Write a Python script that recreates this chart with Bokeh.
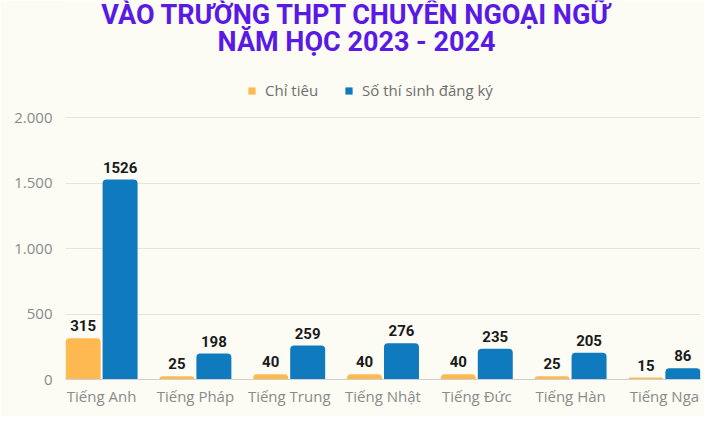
from bokeh.plotting import figure
from bokeh.models import (ColumnDataSource, FactorRange, LabelSet, Label, Legend,
                          LegendItem, FixedTicker)
from bokeh.core.properties import value
from bokeh.transform import dodge
from bokeh.embed import file_html
from bokeh.resources import INLINE

# ---- data ----
categories = ["Tiếng Anh", "Tiếng Pháp", "Tiếng Trung", "Tiếng Nhật",
              "Tiếng Đức", "Tiếng Hàn", "Tiếng Nga"]
chi_tieu = [315, 25, 40, 40, 40, 25, 15]
so_thi_sinh = [1526, 198, 259, 276, 235, 205, 86]
series_names = ["Chỉ tiêu", "Số thí sinh đăng ký"]
y_ticks = [0, 500, 1000, 1500, 2000]
y_tick_labels = ["0", "500", "1.000", "1.500", "2.000"]
title_lines = ["VÀO TRƯỜNG THPT CHUYÊN NGOẠI NGỮ", "NĂM HỌC 2023 - 2024"]

BG = "#FCFCF4"
ORANGE = "#FFB951"
BLUE = "#0F7BBE"
PURPLE = "#5A1AE6"
GREY = "#8A8A8A"

src = ColumnDataSource(dict(
    cat=categories, a=chi_tieu, b=so_thi_sinh,
    a_lbl=[str(v) for v in chi_tieu], b_lbl=[str(v) for v in so_thi_sinh]))

# layout: the frame spans the full height above the x axis so that the
# title and legend can sit inside it; the data area (0..2000) is 262px tall
W, H = 704, 416
FL, FR, FB = 65, 4, 37
FH = H - FB            # 379
PLOT_PX = 262
y_top = max(y_ticks) * FH / PLOT_PX

p = figure(width=W, height=H, output_backend="svg", toolbar_location=None,
           x_range=FactorRange(factors=categories, range_padding=-0.115,
                               range_padding_units="absolute"),
           y_range=(0, y_top),
           min_border_left=FL, min_border_right=FR, min_border_top=0,
           min_border_bottom=FB)
p.background_fill_color = BG
p.border_fill_color = BG
p.outline_line_color = None

rA = p.vbar(x=dodge("cat", -0.197, range=p.x_range), top="a", width=0.373,
            source=src, color=ORANGE, line_color=None, border_radius=(4, 4, 0, 0))
rB = p.vbar(x=dodge("cat", 0.197, range=p.x_range), top="b", width=0.373,
            source=src, color=BLUE, line_color=None, border_radius=(4, 4, 0, 0))

for col, lbl, off in (("a", "a_lbl", -0.197), ("b", "b_lbl", 0.197)):
    p.add_layout(LabelSet(x=dodge("cat", off, range=p.x_range), y=col, text=lbl,
                          source=src, y_offset=7, text_align="center",
                          text_baseline="alphabetic", text_font=value("Roboto"),
                          text_font_style="bold", text_font_size="15px",
                          text_color="#1A1A1A"))

# axes
p.yaxis.ticker = FixedTicker(ticks=y_ticks)
p.yaxis.major_label_overrides = {t: l for t, l in zip(y_ticks, y_tick_labels)}
p.yaxis.axis_line_color = None
p.yaxis.major_tick_line_color = None
p.yaxis.minor_tick_line_color = None
p.yaxis.major_label_standoff = 7
p.yaxis.major_label_text_font = "Open Sans"
p.yaxis.major_label_text_font_size = "15px"
p.yaxis.major_label_text_color = GREY

p.xaxis.axis_line_color = "#CFCFCF"
p.xaxis.major_tick_line_color = None
p.xaxis.minor_tick_line_color = None
p.xaxis.major_label_standoff = 0
p.xaxis.major_label_text_font = "Open Sans"
p.xaxis.major_label_text_font_size = "15px"
p.xaxis.major_label_text_color = GREY

p.xgrid.grid_line_color = None
p.ygrid.grid_line_color = "#E4E4E4"

# title (two lines)
for txt, base in zip(title_lines, [14, 41]):
    p.add_layout(Label(x=356 - FL, y=FH - base, x_units="screen", y_units="screen",
                       text=txt, text_align="center", text_baseline="alphabetic",
                       text_font="Roboto", text_font_style="bold",
                       text_font_size="27px", text_color=PURPLE))

legend = Legend(items=[LegendItem(label=series_names[0], renderers=[rA]),
                       LegendItem(label=series_names[1], renderers=[rB])],
                orientation="horizontal", location=(247 - FL, FH - 100),
                padding=0, margin=0, spacing=26, label_standoff=9,
                glyph_width=9, glyph_height=9, label_height=9,
                border_line_alpha=0, background_fill_alpha=0,
                label_text_font="Open Sans", label_text_font_size="15px",
                label_text_color="#6E6E6E")
p.add_layout(legend, "center")

open("out.html", "w").write(file_html(p, INLINE))
